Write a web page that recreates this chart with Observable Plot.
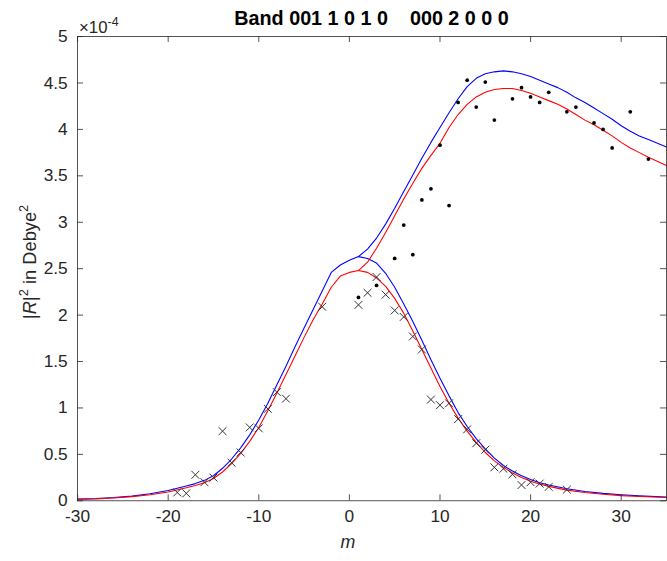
<!DOCTYPE html>
<html><head><meta charset="utf-8">
<script src="https://cdn.jsdelivr.net/npm/d3@7"></script>
<script src="https://cdn.jsdelivr.net/npm/@observablehq/plot@0.6"></script>
<style>
html,body{margin:0;padding:0;overflow:hidden;background:#fff;width:667px;height:561px}
#chart{position:absolute;left:0;top:0}
</style></head><body><div id="chart"></div>
<script>
// ---- data (|R|^2 in units of 1e-4 Debye^2) ----
const xTicks = [-30, -20, -10, 0, 10, 20, 30];
const yTicks = [0, 0.5, 1, 1.5, 2, 2.5, 3, 3.5, 4, 4.5, 5];

const crossM = [-19,-18,-17,-16,-15,-14,-13,-12,-11,-10,-9,-8,-7,-3,1,2,3,4,5,6,7,8,9,10,11,12,13,14,15,16,17,18,19,20,21,22,24];
const crossR = [0.09,0.08,0.28,0.20,0.25,0.75,0.41,0.52,0.79,0.78,0.99,1.17,1.10,2.09,2.11,2.24,2.41,2.22,2.05,1.98,1.77,1.63,1.09,1.03,1.05,0.88,0.77,0.62,0.55,0.36,0.345,0.285,0.17,0.20,0.185,0.15,0.12];

const dotM = [1,3,5,6,7,8,9,10,11,12,13,14,15,16,18,19,20,21,22,24,25,27,28,29,31,33];
const dotR = [2.19,2.32,2.61,2.97,2.65,3.24,3.36,3.83,3.18,4.29,4.53,4.24,4.51,4.10,4.33,4.45,4.35,4.29,4.40,4.19,4.24,4.07,4.00,3.80,4.19,3.68];

const lowerM = [-30,-28,-26,-24,-22,-20,-18,-17,-16,-15,-14,-13,-12,-11,-10,-9,-8,-7,-6,-5,-4,-3,-2,-1,0,1,2,3,4,5,6,7,8,9,10,11,12,13,14,15,16,17,18,19,20,21,22,24,26,28,30,32,35];
const redLower = [0.015,0.02,0.03,0.045,0.065,0.095,0.14,0.165,0.195,0.24,0.31,0.40,0.51,0.64,0.79,0.97,1.16,1.36,1.56,1.76,1.95,2.12,2.30,2.42,2.46,2.48,2.46,2.40,2.31,2.18,2.02,1.83,1.63,1.43,1.23,1.05,0.89,0.75,0.63,0.52,0.43,0.36,0.30,0.25,0.21,0.18,0.155,0.115,0.09,0.07,0.056,0.046,0.035];
const blueLower = [0.02,0.025,0.035,0.05,0.075,0.11,0.16,0.185,0.22,0.27,0.35,0.45,0.57,0.71,0.87,1.05,1.25,1.45,1.66,1.86,2.06,2.26,2.46,2.54,2.59,2.63,2.61,2.56,2.45,2.30,2.12,1.93,1.73,1.52,1.32,1.13,0.95,0.80,0.67,0.56,0.46,0.38,0.32,0.27,0.23,0.195,0.17,0.13,0.10,0.08,0.065,0.053,0.04];

const upperM = [1,2,3,4,5,6,7,8,9,10,11,12,13,14,15,16,17,18,19,20,21,22,23,24,25,26,27,28,29,30,31,32,33,35];
const redUpper = [2.48,2.57,2.72,2.89,3.07,3.25,3.42,3.58,3.72,3.85,4.02,4.16,4.27,4.35,4.40,4.43,4.44,4.44,4.42,4.39,4.35,4.31,4.27,4.22,4.16,4.10,4.05,3.99,3.93,3.86,3.80,3.75,3.70,3.61];
const blueUpper = [2.63,2.71,2.83,2.98,3.15,3.33,3.51,3.69,3.86,4.02,4.18,4.33,4.46,4.55,4.60,4.62,4.63,4.62,4.60,4.57,4.53,4.49,4.45,4.40,4.34,4.29,4.23,4.17,4.11,4.04,3.98,3.93,3.89,3.81];

// ---- tables built from the arrays ----
const crosses = crossM.map((m, i) => ({m, r: crossR[i]}));
const dots = dotM.map((m, i) => ({m, r: dotR[i]}));
const curves = [
  ...lowerM.map((m, i) => ({m, r: blueLower[i], s: "blueLower", c: "blue"})),
  ...upperM.map((m, i) => ({m, r: blueUpper[i], s: "blueUpper", c: "blue"})),
  ...lowerM.map((m, i) => ({m, r: redLower[i], s: "redLower", c: "red"})),
  ...upperM.map((m, i) => ({m, r: redUpper[i], s: "redUpper", c: "red"}))
];

// ---- layout ----
const W = 675, H = 561;
const mt = 36.5, mb = 54.7, ml = 78, mr = 1;
const ph = H - mt - mb, pw = W - ml - mr;
const TL = 6;
const ink = "#262626";
const font = "'Liberation Sans', Arial, Helvetica, sans-serif";
const fmt = d => String(d);

const chart = Plot.plot({
  width: W, height: H,
  marginTop: mt, marginBottom: mb, marginLeft: ml, marginRight: mr,
  style: {fontFamily: font, fontSize: "17.5px", color: ink, background: "white", overflow: "visible"},
  x: {domain: [-30, 35]},
  y: {domain: [0, 5]},
  color: {domain: ["blue", "red"], range: ["#1414e0", "#e31a1a"]},
  marks: [
    Plot.line(curves, {x: "m", y: "r", z: "s", stroke: "c", strokeWidth: 1.1}),
    Plot.dot(crosses, {x: "m", y: "r", symbol: "times", r: 3.7, stroke: "#303030", strokeWidth: 1}),
    Plot.dot(dots, {x: "m", y: "r", r: 1.9, fill: "#000", stroke: "none"}),
    Plot.frame({stroke: ink, strokeWidth: 0.8}),
    Plot.tickX(xTicks, {x: d => d, insetTop: ph - TL, stroke: ink, strokeWidth: 0.8}),
    Plot.tickX(xTicks, {x: d => d, insetBottom: ph - TL, stroke: ink, strokeWidth: 0.8}),
    Plot.tickY(yTicks, {y: d => d, insetRight: pw - TL, stroke: ink, strokeWidth: 0.8}),
    Plot.tickY(yTicks, {y: d => d, insetLeft: pw - TL, stroke: ink, strokeWidth: 0.8}),
    Plot.axisX({ticks: xTicks, tickSize: 0, tickPadding: 9, tickFormat: fmt, label: null, fill: ink}),
    Plot.axisY({ticks: yTicks, tickSize: 0, tickPadding: 10, tickFormat: fmt, label: null, fill: ink})
  ]
});
document.getElementById("chart").appendChild(chart);

// ---- title, exponent and axis labels as real text ----
const svg = d3.select(chart);
svg.append("text")
  .attr("x", 376).attr("y", 25)
  .attr("text-anchor", "middle")
  .attr("font-family", font).attr("font-size", 20).attr("font-weight", "bold")
  .attr("fill", "#000")
  .style("white-space", "pre")
  .attr("xml:space", "preserve")
  .text("Band 001 1 0 1 0    000 2 0 0 0");

const ex = svg.append("text")
  .attr("x", 80).attr("y", 33)
  .attr("text-anchor", "start")
  .attr("font-family", font).attr("font-size", 17).attr("fill", ink);
ex.append("tspan").text("×10");
ex.append("tspan").attr("font-size", 12.5).attr("dy", -7).text("-4");

const yl = svg.append("text")
  .attr("transform", "translate(36,265) rotate(-90)")
  .attr("text-anchor", "middle")
  .attr("font-family", font).attr("font-size", 18.5).attr("fill", ink);
yl.append("tspan").text("|");
yl.append("tspan").attr("font-style", "italic").text("R");
yl.append("tspan").text("|");
yl.append("tspan").attr("font-size", 13).attr("dy", -8).text("2");
yl.append("tspan").attr("dy", 8).text(" in Debye");
yl.append("tspan").attr("font-size", 13).attr("dy", -8).text("2");

svg.append("text")
  .attr("x", 352).attr("y", 555)
  .attr("text-anchor", "middle")
  .attr("font-family", font).attr("font-size", 18).attr("font-style", "italic")
  .attr("fill", ink)
  .text("m");
</script></body></html>
